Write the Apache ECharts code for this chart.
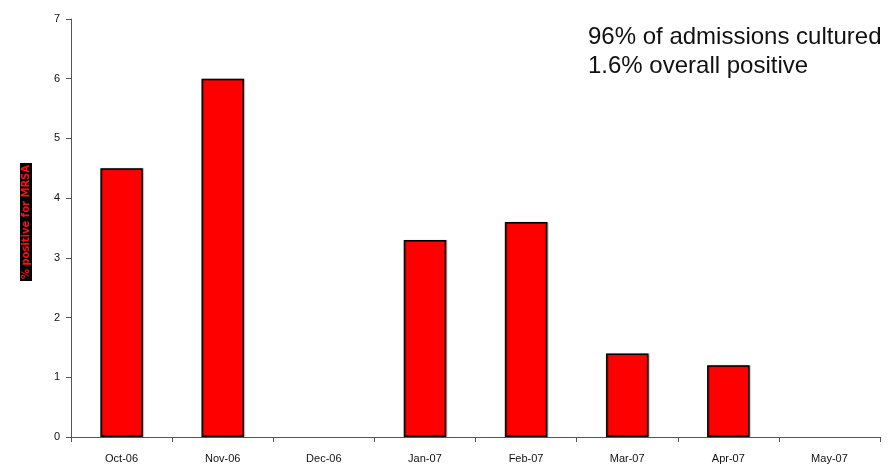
<!DOCTYPE html>
<html>
<head>
<meta charset="utf-8">
<script src="https://cdn.jsdelivr.net/npm/echarts@6/dist/echarts.min.js"></script>
<style>
  html, body { margin: 0; padding: 0; background: #fff; }
  #chart { width: 888px; height: 470px; }
</style>
</head>
<body>
<div id="chart"></div>
<script>
// Monthly share of admissions positive for MRSA
const months = ['Oct-06', 'Nov-06', 'Dec-06', 'Jan-07', 'Feb-07', 'Mar-07', 'Apr-07', 'May-07'];
const positivePct = [4.5, 6.0, 0, 3.3, 3.6, 1.4, 1.2, 0];
const yTicks = [0, 1, 2, 3, 4, 5, 6, 7];
const notes = ['96% of admissions cultured', '1.6% overall positive'];

const chart = echarts.init(document.getElementById('chart'), null, { renderer: 'canvas' });

// zero months get no outline so no stub is drawn on the axis
const barData = positivePct.map(v => v === 0
  ? { value: v, itemStyle: { borderWidth: 0, shadowColor: 'transparent' } }
  : v);

chart.setOption({
  animation: false,
  backgroundColor: '#fff',
  grid: { left: 71, right: 8, top: 19, bottom: 33, containLabel: false },
  xAxis: {
    type: 'category',
    data: months,
    boundaryGap: true,
    axisLine: { lineStyle: { color: '#555', width: 1 } },
    axisTick: { show: true, inside: false, length: 5, lineStyle: { color: '#555' } },
    axisLabel: { color: '#111', fontFamily: 'Liberation Sans, Arial, sans-serif', fontSize: 11, margin: 16 }
  },
  yAxis: {
    type: 'value',
    min: yTicks[0],
    max: yTicks[yTicks.length - 1],
    interval: 1,
    splitLine: { show: false },
    axisLine: { show: true, lineStyle: { color: '#555', width: 1 } },
    axisTick: { show: true, inside: false, length: 5, lineStyle: { color: '#555' } },
    axisLabel: { color: '#111', fontFamily: 'Liberation Sans, Arial, sans-serif', fontSize: 11, margin: 11 }
  },
  series: [{
    type: 'bar',
    data: barData,
    barWidth: '42%',
    itemStyle: {
      color: '#ff0000',
      borderColor: '#000',
      borderWidth: 1.5,
      shadowColor: 'rgba(0,0,0,0.35)',
      shadowOffsetX: 1,
      shadowOffsetY: 0,
      shadowBlur: 1
    }
  }],
  graphic: [
    {
      type: 'text',
      left: 588,
      top: 23,
      style: {
        text: notes.join('\n'),
        fill: '#111',
        font: '24px "Liberation Sans", Arial, sans-serif',
        lineHeight: 29
      }
    },
    {
      type: 'text',
      x: 20,
      y: 222,
      rotation: Math.PI / 2,
      style: {
        text: '% positive for MRSA',
        fill: '#ff1010',
        font: 'bold 10px "DejaVu Sans", sans-serif',
        backgroundColor: '#000',
        padding: [1, 2, 1, 2],
        align: 'center',
        verticalAlign: 'top'
      }
    }
  ]
});
</script>
</body>
</html>
